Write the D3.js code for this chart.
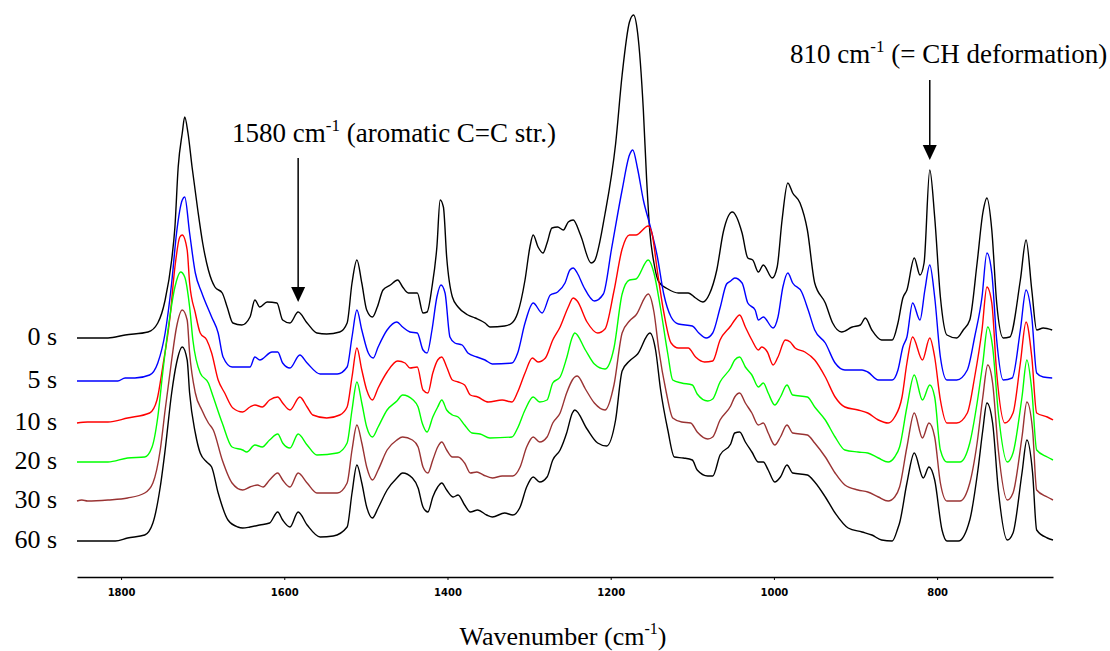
<!DOCTYPE html>
<html>
<head>
<meta charset="utf-8">
<script src="https://cdn.jsdelivr.net/npm/d3@7"></script>
<style>
  body { margin: 0; background: #fff; }
</style>
</head>
<body>
<svg id="chart" width="1110" height="651"></svg>
<script>
// series labels, vertical offsets (a.u.) and colours
var labels = ["0 s", "5 s", "10 s", "20 s", "30 s", "60 s"];
var offsets = [203, 160, 118, 79, 40, 0];
var colors = ["#000000", "#0000ff", "#ff0000", "#00ff00", "#993333", "#000000"];
var tickValues = [1800, 1600, 1400, 1200, 1000, 800];

// [wavenumber cm-1, absorbance a.u.]
var s0 = [[1854,0],[1816,0],[1795,3],[1767,6],[1755,15],[1746,38],[1738,78],[1734,111],[1730,171],[1725,205],[1722,221],[1718,205],[1713,171],[1706,128],[1700,95],[1693,68],[1685,51],[1676,45],[1670,31],[1663,15],[1652,13],[1642,21],[1636,38],[1630,31],[1621,36],[1609,35],[1602,18],[1593,15],[1583,26],[1572,15],[1560,5],[1548,4],[1532,6],[1523,15],[1517,55],[1511,78],[1505,55],[1499,28],[1492,21],[1486,31],[1479,48],[1470,53],[1461,58],[1455,51],[1448,45],[1437,45],[1430,25],[1425,26],[1419,51],[1413,91],[1409,138],[1405,131],[1401,81],[1394,41],[1387,31],[1375,23],[1366,20],[1354,15],[1348,11],[1330,12],[1321,15],[1314,25],[1305,58],[1299,91],[1295,103],[1289,91],[1283,85],[1278,95],[1272,110],[1265,111],[1258,108],[1252,116],[1246,118],[1237,103],[1224,75],[1220,77],[1207,124],[1194,194],[1186,263],[1177,316],[1172,323],[1167,305],[1160,228],[1156,159],[1152,106],[1147,75],[1141,56],[1130,49],[1117,45],[1105,45],[1096,40],[1087,36],[1079,44],[1070,68],[1062,106],[1051,126],[1039,105],[1032,80],[1026,78],[1019,66],[1013,73],[1002,60],[996,71],[990,118],[983,155],[977,145],[968,135],[959,108],[950,55],[937,35],[928,15],[917,6],[904,11],[894,13],[888,20],[880,8],[868,-2],[855,-2],[848,15],[842,40],[837,48],[828,80],[821,63],[816,75],[809,168],[803,121],[796,41],[788,3],[776,0],[768,8],[760,18],[751,75],[744,125],[739,140],[733,108],[727,35],[719,0],[711,1],[698,58],[691,98],[684,48],[678,8],[670,10],[659,8]];

var s5 = [[1854,0],[1804,0],[1795,3],[1783,3],[1765,6],[1755,18],[1746,48],[1738,98],[1732,148],[1725,181],[1722,184],[1716,148],[1709,108],[1701,88],[1689,64],[1681,48],[1675,24],[1664,14],[1651,14],[1642,14],[1636,24],[1630,21],[1615,29],[1608,29],[1602,18],[1593,13],[1581,26],[1572,18],[1556,7],[1535,7],[1523,14],[1517,44],[1511,71],[1505,51],[1497,28],[1491,23],[1485,34],[1474,51],[1462,59],[1455,54],[1446,49],[1437,48],[1430,31],[1425,28],[1419,51],[1413,84],[1408,96],[1403,88],[1397,44],[1391,38],[1382,36],[1375,28],[1364,24],[1354,21],[1345,17],[1321,18],[1314,28],[1305,58],[1295,78],[1284,68],[1274,86],[1265,89],[1256,98],[1250,111],[1246,113],[1241,108],[1233,94],[1220,80],[1209,87],[1199,132],[1186,191],[1177,226],[1173,231],[1167,212],[1160,181],[1152,156],[1143,125],[1135,87],[1126,64],[1117,57],[1100,55],[1092,48],[1083,43],[1075,48],[1066,73],[1058,97],[1053,100],[1048,103],[1039,98],[1032,78],[1023,71],[1019,61],[1013,64],[1001,53],[995,64],[989,94],[983,108],[977,98],[966,89],[958,71],[950,51],[937,38],[925,18],[913,11],[901,11],[892,11],[885,9],[872,1],[855,1],[848,11],[842,34],[837,44],[830,78],[821,61],[815,91],[809,116],[803,84],[796,24],[788,1],[776,1],[763,11],[754,44],[745,84],[739,128],[733,108],[727,41],[719,1],[708,3],[698,51],[691,91],[684,64],[678,8],[670,4],[659,3]];

var s10 = [[1854,0],[1841,1],[1816,1],[1792,5],[1765,10],[1756,23],[1749,56],[1740,106],[1734,156],[1728,186],[1725,188],[1719,173],[1716,140],[1709,110],[1703,90],[1695,83],[1689,70],[1681,43],[1673,30],[1663,15],[1651,11],[1642,16],[1636,18],[1627,16],[1618,23],[1608,26],[1602,20],[1593,13],[1581,26],[1572,16],[1565,8],[1548,5],[1532,8],[1523,16],[1517,46],[1511,75],[1505,53],[1499,33],[1492,23],[1485,35],[1474,51],[1461,62],[1452,60],[1446,55],[1437,56],[1430,33],[1424,30],[1418,50],[1412,63],[1407,66],[1401,56],[1394,43],[1387,41],[1379,38],[1372,28],[1363,26],[1350,21],[1333,23],[1321,21],[1314,31],[1305,50],[1296,65],[1289,61],[1280,65],[1271,83],[1262,96],[1252,116],[1246,125],[1241,122],[1229,101],[1216,90],[1207,94],[1196,132],[1186,174],[1177,188],[1169,188],[1154,197],[1149,188],[1143,153],[1135,111],[1126,80],[1117,75],[1105,75],[1096,66],[1085,61],[1075,62],[1066,83],[1053,97],[1048,103],[1042,108],[1035,96],[1027,83],[1019,73],[1015,76],[1008,71],[1001,58],[995,66],[986,83],[980,81],[974,75],[962,71],[950,63],[937,46],[925,26],[913,16],[897,13],[885,10],[872,3],[860,0],[852,6],[843,26],[837,60],[830,86],[818,63],[809,85],[803,66],[796,23],[788,0],[776,0],[763,10],[754,46],[745,93],[739,136],[733,120],[727,50],[717,0],[707,10],[698,60],[691,101],[684,66],[678,10],[665,6],[658,3]];

var s20 = [[1854,0],[1816,0],[1792,4],[1771,5],[1762,15],[1755,45],[1749,89],[1742,135],[1734,175],[1727,190],[1722,185],[1716,155],[1712,122],[1703,89],[1693,79],[1687,65],[1676,39],[1664,15],[1651,12],[1646,10],[1636,17],[1627,15],[1618,22],[1608,28],[1602,19],[1593,14],[1583,28],[1572,17],[1560,7],[1535,9],[1523,19],[1517,52],[1511,80],[1505,59],[1499,35],[1492,25],[1485,35],[1474,52],[1462,61],[1455,67],[1442,62],[1436,55],[1431,39],[1425,30],[1418,45],[1412,55],[1407,62],[1401,52],[1394,47],[1387,45],[1379,37],[1370,29],[1360,28],[1348,24],[1321,25],[1314,34],[1305,52],[1295,65],[1287,60],[1278,62],[1271,79],[1262,85],[1254,104],[1247,125],[1244,129],[1231,112],[1220,98],[1207,93],[1196,114],[1186,168],[1177,182],[1169,183],[1154,202],[1147,189],[1139,154],[1130,108],[1124,82],[1113,79],[1100,77],[1094,68],[1081,61],[1075,63],[1066,80],[1053,94],[1048,102],[1042,105],[1035,95],[1027,87],[1019,75],[1013,79],[1007,69],[999,57],[992,65],[984,77],[977,67],[959,65],[950,55],[937,42],[925,25],[913,12],[897,10],[885,9],[872,4],[860,0],[852,5],[846,15],[837,55],[828,87],[818,62],[809,77],[803,65],[796,12],[788,0],[772,0],[760,19],[751,59],[744,99],[738,135],[732,115],[725,49],[714,0],[707,9],[696,65],[690,102],[684,72],[678,12],[665,5],[658,2]];

var s30 = [[1854,0],[1848,1],[1841,0],[1816,1],[1792,3],[1771,8],[1761,18],[1752,51],[1746,91],[1738,141],[1732,174],[1725,191],[1719,181],[1716,148],[1709,108],[1701,91],[1693,78],[1687,71],[1676,41],[1664,18],[1651,11],[1642,14],[1633,16],[1626,14],[1618,21],[1608,28],[1602,21],[1593,14],[1583,28],[1572,18],[1560,8],[1535,8],[1523,18],[1517,51],[1511,76],[1505,58],[1499,34],[1492,21],[1485,31],[1474,51],[1462,61],[1455,64],[1443,61],[1436,54],[1430,34],[1424,28],[1418,41],[1412,54],[1407,59],[1401,51],[1394,44],[1387,44],[1379,38],[1372,28],[1364,29],[1356,26],[1345,23],[1333,25],[1320,25],[1311,34],[1303,54],[1295,64],[1287,59],[1278,64],[1271,78],[1262,88],[1254,108],[1247,121],[1244,124],[1241,125],[1231,112],[1220,98],[1207,91],[1196,116],[1186,168],[1177,180],[1169,186],[1154,207],[1147,189],[1141,151],[1132,109],[1124,83],[1113,79],[1102,78],[1094,69],[1081,62],[1075,64],[1066,81],[1053,95],[1048,104],[1042,108],[1035,98],[1027,88],[1019,76],[1013,78],[1007,68],[999,56],[992,64],[984,76],[977,68],[959,66],[950,58],[937,44],[925,28],[913,16],[897,11],[885,9],[872,4],[860,0],[852,4],[846,14],[837,54],[828,88],[818,63],[810,78],[803,64],[796,18],[788,0],[772,0],[760,18],[751,58],[744,104],[738,136],[732,118],[725,51],[714,1],[707,8],[696,64],[690,99],[683,71],[678,11],[665,4],[658,1]];

var s60 = [[1854,0],[1807,0],[1792,3],[1771,6],[1761,18],[1752,54],[1746,91],[1738,148],[1732,178],[1725,194],[1719,181],[1716,148],[1709,108],[1703,88],[1695,79],[1689,74],[1681,48],[1669,21],[1657,14],[1651,13],[1642,14],[1630,16],[1618,18],[1608,29],[1602,21],[1593,14],[1583,29],[1572,16],[1556,4],[1540,5],[1523,14],[1517,48],[1511,76],[1505,58],[1499,34],[1492,23],[1485,33],[1474,51],[1462,63],[1455,68],[1443,63],[1436,53],[1430,34],[1424,29],[1418,44],[1412,54],[1407,58],[1401,51],[1393,44],[1387,46],[1379,36],[1372,29],[1363,31],[1352,26],[1345,24],[1330,28],[1320,26],[1311,34],[1303,54],[1295,64],[1287,59],[1278,64],[1271,81],[1262,91],[1254,108],[1247,128],[1244,131],[1229,112],[1216,98],[1205,95],[1194,121],[1186,170],[1177,180],[1167,187],[1152,208],[1145,191],[1139,152],[1130,111],[1122,84],[1111,83],[1100,81],[1094,71],[1081,65],[1075,65],[1066,86],[1053,97],[1048,108],[1042,109],[1035,99],[1027,89],[1019,79],[1013,79],[1007,71],[999,59],[992,64],[984,76],[977,68],[959,66],[950,59],[937,44],[925,28],[909,13],[892,9],[880,6],[868,1],[855,0],[848,13],[846,18],[837,58],[828,88],[817,63],[810,74],[803,61],[794,11],[788,0],[774,0],[760,21],[750,71],[744,111],[739,138],[732,118],[725,51],[714,1],[707,8],[696,68],[690,101],[683,68],[678,11],[665,3],[658,1]];

var spectra = [s0, s5, s10, s20, s30, s60];

// annotations: arrow position (cm-1) and label
var noteWn = [1583, 809];
var noteNum = ["1580", "810"];
var noteText = [" (aromatic C=C str.)", " (= CH deformation)"];

var svg = d3.select("#chart"),
    serif = "'Liberation Serif', 'Times New Roman', serif";

var x = d3.scaleLinear()
    .domain([1854, 658])
    .range([77, 1053]);

var y = d3.scaleLinear()
    .domain([0, 530])
    .range([541, 11]);

// spectra, each shifted by its offset
spectra.forEach(function (s, i) {
    var line = d3.line()
        .x(function (d) { return x(d[0]); })
        .y(function (d) { return y(d[1] + offsets[i]); })
        .curve(d3.curveMonotoneX);

    svg.append("path")
        .datum(s)
        .attr("fill", "none")
        .attr("stroke", colors[i])
        .attr("stroke-width", 1.4)
        .attr("stroke-linejoin", "round")
        .attr("d", line);
});

// time labels at the left end of each trace
svg.append("g")
    .selectAll("text")
    .data(labels)
    .enter().append("text")
    .attr("x", 57)
    .attr("y", function (d, i) { return y(offsets[i]) + 7; })
    .attr("text-anchor", "end")
    .attr("font-family", serif)
    .attr("font-size", 26)
    .text(function (d) { return d; });

// x axis
svg.append("g")
    .attr("transform", "translate(0,577)")
    .call(d3.axisBottom(x)
        .tickValues(tickValues)
        .tickFormat(d3.format("d"))
        .tickSize(3)
        .tickSizeOuter(0)
        .tickPadding(9))
    .call(g => g.select(".domain")
        .attr("stroke", "#000")
        .attr("stroke-width", 1.5))
    .call(g => g.selectAll(".tick line").attr("stroke", "#000"))
    .call(g => g.selectAll(".tick text")
        .attr("fill", "#000")
        .attr("font-family", "'DejaVu Sans', sans-serif")
        .attr("font-weight", "bold")
        .attr("font-size", 10));

// axis title
var title = svg.append("text")
    .attr("x", 563)
    .attr("y", 645)
    .attr("text-anchor", "middle")
    .attr("font-family", serif)
    .attr("font-size", 26);
title.append("tspan").text("Wavenumber (cm");
title.append("tspan").attr("font-size", 16).attr("dy", -11).text("-1");
title.append("tspan").attr("dy", 11).text(")");

// peak annotations with arrows
var notePos = [
    {tx: 232, ty: 142, y1: 158, y2: 302},
    {tx: 790, ty: 63, y1: 80, y2: 160}
];

notePos.forEach(function (p, i) {
    var t = svg.append("text")
        .attr("x", p.tx)
        .attr("y", p.ty)
        .attr("font-family", serif)
        .attr("font-size", 27);
    t.append("tspan").text(noteNum[i] + " cm");
    t.append("tspan").attr("font-size", 17).attr("dy", -11).text("-1");
    t.append("tspan").attr("dy", 11).text(noteText[i]);

    var ax = x(noteWn[i]);
    svg.append("line")
        .attr("x1", ax).attr("x2", ax)
        .attr("y1", p.y1).attr("y2", p.y2 - 12)
        .attr("stroke", "#000")
        .attr("stroke-width", 1.5);
    svg.append("path")
        .attr("d", "M" + (ax - 7) + "," + (p.y2 - 15) + "L" + (ax + 7) + "," + (p.y2 - 15) + "L" + ax + "," + p.y2 + "Z")
        .attr("fill", "#000");
});
</script>
</body>
</html>
